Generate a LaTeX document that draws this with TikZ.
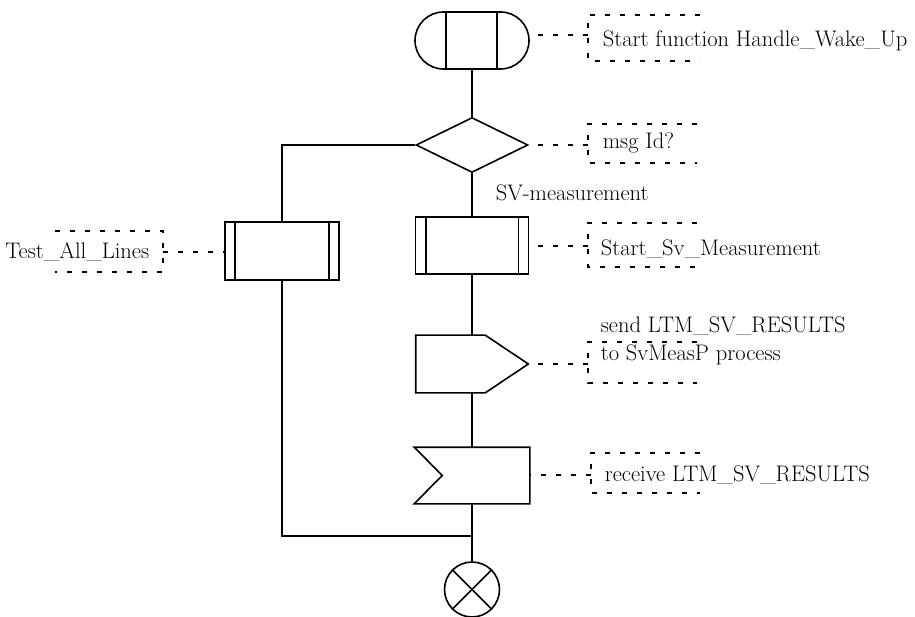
\documentclass[tikz,border=0pt]{standalone}
\usetikzlibrary{shapes.geometric,shapes.misc}
\begin{document}
\begin{tikzpicture}[x=1pt,y=-1pt,line width=1.6pt,
  lbl/.style={font=\fontsize{22.5}{28}\selectfont, inner sep=0pt, anchor=west, align=left},
  cmt/.style={line width=1.1pt, dash pattern=on 5pt off 10pt},
  shp/.style={draw, inner sep=0pt},
  frame/.style={inner sep=0pt}]
\useasboundingbox (0,0) rectangle (915,617);
\fill[white] (0,0) rectangle (915,617);
% shapes
\node[shp, rounded rectangle, minimum width=114pt, minimum height=57pt] (start) at (472,40.5) {};
\draw ([xshift=-26pt]start.north) -- ([xshift=-26pt]start.south);
\draw ([xshift=25pt]start.north) -- ([xshift=25pt]start.south);
\node[shp, diamond, minimum width=112pt, minimum height=55pt] (dec) at (472,145) {};
\node[shp, minimum width=113pt, minimum height=57pt] (svm) at (472,245.5) {};
\draw ([xshift=11pt]svm.north west) -- ([xshift=11pt]svm.south west);
\draw ([xshift=-11pt]svm.north east) -- ([xshift=-11pt]svm.south east);
\node[shp, minimum width=114pt, minimum height=58pt] (tal) at (282,251) {};
\draw ([xshift=11pt]tal.north west) -- ([xshift=11pt]tal.south west);
\draw ([xshift=-11pt]tal.north east) -- ([xshift=-11pt]tal.south east);
\node[frame, minimum width=111pt, minimum height=56pt] (send) at (472,364) {};
\draw (send.north west) -- ([xshift=-43pt]send.north east) -- (send.east) -- ([xshift=-43pt]send.south east) -- (send.south west) -- cycle;
\node[frame, minimum width=114pt, minimum height=55pt] (recv) at (472,475.5) {};
\draw (recv.north west) -- (recv.north east) -- (recv.south east) -- (recv.south west) -- ([xshift=28pt]recv.west) -- cycle;
\node[shp, circle, minimum size=55pt] (stop) at (472,589.5) {};
\draw (stop.north west) -- (stop.south east);
\draw (stop.north east) -- (stop.south west);
% connectors
\coordinate (join) at (472,536);
\draw (start.south) -- (dec.north);
\draw (dec.south) -- (svm.north);
\draw (svm.south) -- (send.north);
\draw (send.south) -- (recv.north);
\draw (recv.south) -- (stop.north);
\draw (dec.west) -| (tal.north);
\draw (tal.south) |- (join);
\node[lbl] (svlbl) at (495,193) {SV-measurement};
% comments
\coordinate (c1) at (588,35);
\draw[cmt] (700,15) -- (588,15) -- (588,61) -- (700,61);
\draw[cmt] (c1) -- (start.east |- c1);
\node[lbl] (t1) at (602,41) {Start function Handle\_Wake\_Up};
\coordinate (c2) at (588,145);
\draw[cmt] (697,124) -- (588,124) -- (588,163) -- (697,163);
\draw[cmt] (c2) -- (dec.east);
\node[lbl] (t2) at (602,143) {msg Id?};
\coordinate (c3) at (588,246);
\draw[cmt] (697,223) -- (588,223) -- (588,267) -- (697,267);
\draw[cmt] (c3) -- (svm.east |- c3);
\node[lbl] (t3) at (600,249) {Start\_Sv\_Measurement};
\coordinate (c4) at (588,364);
\draw[cmt] (697,342) -- (588,342) -- (588,383) -- (697,383);
\draw[cmt] (c4) -- (send.east);
\node[lbl] (t4) at (600,341) {send LTM\_SV\_RESULTS\\to SvMeasP process};
\coordinate (c5) at (591,475);
\draw[cmt] (700,453) -- (591,453) -- (591,493) -- (700,493);
\draw[cmt] (c5) -- (recv.east |- c5);
\node[lbl] (t5) at (604,475) {receive LTM\_SV\_RESULTS};
\coordinate (c6) at (163,252);
\draw[cmt] (55,231) -- (163,231) -- (163,272) -- (55,272);
\draw[cmt] (c6) -- (tal.west |- c6);
\node[lbl, anchor=east] (t6) at (150,252) {Test\_All\_Lines};
\end{tikzpicture}
\end{document}
